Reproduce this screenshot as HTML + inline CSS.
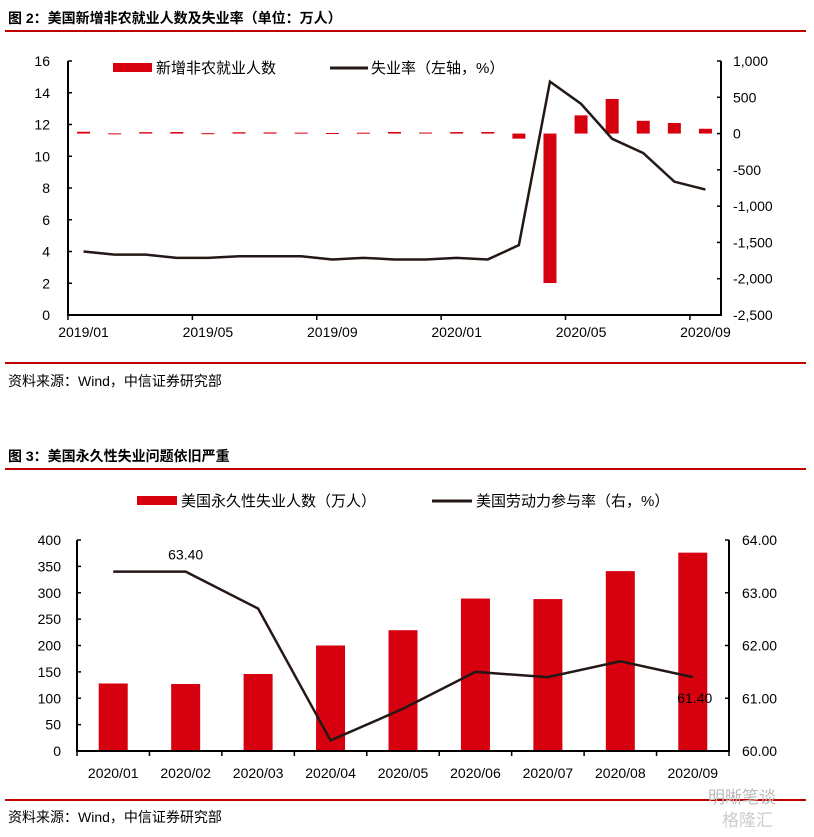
<!DOCTYPE html>
<html><head><meta charset="utf-8"><style>
body{margin:0;background:#fff;width:814px;height:832px;overflow:hidden;font-family:"Liberation Sans","Noto Sans CJK SC",sans-serif}
svg text{font-family:"Liberation Sans","Noto Sans CJK SC",sans-serif}
</style></head><body>
<svg width="814" height="832">
<text x="8" y="23" font-size="14" font-weight="bold">图 2：美国新增非农就业人数及失业率（单位：万人）</text>
<line x1="5" y1="31" x2="806" y2="31" stroke="#c00000" stroke-width="2"/>
<g id="c1"></g>
<line x1="5" y1="363" x2="806" y2="363" stroke="#c00000" stroke-width="2"/>
<text x="8" y="386" font-size="14">资料来源：Wind，中信证券研究部</text>
<text x="8" y="461" font-size="14" font-weight="bold">图 3：美国永久性失业问题依旧严重</text>
<line x1="5" y1="469" x2="806" y2="469" stroke="#c00000" stroke-width="2"/>
<g id="c2"></g>
<line x1="5" y1="800" x2="806" y2="800" stroke="#c00000" stroke-width="2"/>
<text x="8" y="822" font-size="14">资料来源：Wind，中信证券研究部</text>
<text x="708" y="803" font-size="17" fill="#bbb">明晰笔谈</text>
<text x="722" y="826" font-size="17" fill="#ccc">格隆汇</text>
</svg>
<script>
const months1=["2019/01","2019/02","2019/03","2019/04","2019/05","2019/06","2019/07","2019/08","2019/09","2019/10","2019/11","2019/12","2020/01","2020/02","2020/03","2020/04","2020/05","2020/06","2020/07","2020/08","2020/09"];
const unemp=[4.0,3.8,3.8,3.6,3.6,3.7,3.7,3.7,3.5,3.6,3.5,3.5,3.6,3.5,4.4,14.7,13.3,11.1,10.2,8.4,7.9];
const payrolls=[25,3,19,21,5,18,16,13,8,12,22,14,21,22,-70,-2060,251,477,176,146,66];
const leftTicks1=[0,2,4,6,8,10,12,14,16];
const rightTicks1=[-2500,-2000,-1500,-1000,-500,0,500,1000];
const rightLabels1=["-2,500","-2,000","-1,500","-1,000","-500","0","500","1,000"];
const xLabelIdx1=[0,4,8,12,16,20];

const months2=["2020/01","2020/02","2020/03","2020/04","2020/05","2020/06","2020/07","2020/08","2020/09"];
const perm=[128,127,146,200,229,289,288,341,376];
const lfpr=[63.4,63.4,62.7,60.2,60.8,61.5,61.4,61.7,61.4];
const leftTicks2=[0,50,100,150,200,250,300,350,400];
const rightTicks2=[60,61,62,63,64];
const NS="http://www.w3.org/2000/svg";
function el(p,t,a){const e=document.createElementNS(NS,t);for(const k in a)e.setAttribute(k,a[k]);p.appendChild(e);return e;}
function txt(p,x,y,s,a,sz){const e=el(p,"text",{x:x,y:y,"font-size":sz||14,"text-anchor":a||"middle"});e.textContent=s;return e;}

// Chart 1
(function(){
const g=document.getElementById("c1");
const L=68,R=721,T=61,B=315,n=months1.length,bw=(R-L)/n;
const yl=v=>B-(v-0)/16*(B-T), yr=v=>B-(v+2500)/3500*(B-T), xc=i=>L+bw*(i+0.5);
payrolls.forEach((v,i)=>{const y0=yr(0),y1=yr(v);
 const r=el(g,"rect",{x:xc(i)-6.5,y:Math.min(y0,y1),width:13,height:Math.max(Math.abs(y1-y0),1),fill:"#d7000f"});
 
 });
const pts=unemp.map((v,i)=>xc(i)+","+yl(v)).join(" ");
const pl=el(g,"polyline",{points:pts,fill:"none",stroke:"#231815","stroke-width":2.5});


el(g,"line",{x1:L,y1:T,x2:L,y2:B+1,stroke:"#000","stroke-width":2});
el(g,"line",{x1:R,y1:T,x2:R,y2:B+1,stroke:"#000","stroke-width":2});
el(g,"line",{x1:L,y1:B,x2:R,y2:B,stroke:"#000","stroke-width":2});
leftTicks1.forEach(v=>{el(g,"line",{x1:L,y1:yl(v),x2:L+4,y2:yl(v),stroke:"#000","stroke-width":1.5});const t=txt(g,L-18,yl(v)+5,String(v),"end");});
rightTicks1.forEach((v,k)=>{el(g,"line",{x1:R-4,y1:yr(v),x2:R,y2:yr(v),stroke:"#000","stroke-width":1.5});const t=txt(g,R+12,yr(v)+5,rightLabels1[k],"start");});
for(let i=0;i<=n;i+=4){el(g,"line",{x1:L+bw*i,y1:B,x2:L+bw*i,y2:B+5,stroke:"#000","stroke-width":1.5});}
xLabelIdx1.forEach(i=>{const t=txt(g,xc(i),B+22,months1[i]);});
const lg=el(g,"g",{});
el(lg,"rect",{x:113,y:63,width:39,height:9,fill:"#d7000f"});
txt(lg,156,73,"新增非农就业人数","start",15);
el(lg,"line",{x1:330,y1:68,x2:368,y2:68,stroke:"#231815","stroke-width":3});
txt(lg,371,73,"失业率（左轴，%）","start",15);
})();

// Chart 2
(function(){
const g=document.getElementById("c2");
const L=77,R=729,T=540,B=751,n=months2.length,bw=(R-L)/n;
const yl=v=>B-v/400*(B-T), yr=v=>B-(v-60)/4*(B-T), xc=i=>L+bw*(i+0.5);
perm.forEach((v,i)=>{const r=el(g,"rect",{x:xc(i)-14.5,y:yl(v),width:29,height:B-yl(v),fill:"#d7000f"});
 
 });
const pl=el(g,"polyline",{points:lfpr.map((v,i)=>xc(i)+","+yr(v)).join(" "),fill:"none",stroke:"#231815","stroke-width":2.5});


const a=txt(g,xc(1),yr(lfpr[1])-12,lfpr[1].toFixed(2));
const b=txt(g,xc(8)+2,yr(lfpr[8])+26,lfpr[8].toFixed(2));
el(g,"line",{x1:L,y1:T,x2:L,y2:B+1,stroke:"#000","stroke-width":2});
el(g,"line",{x1:R,y1:T,x2:R,y2:B+1,stroke:"#000","stroke-width":2});
el(g,"line",{x1:L,y1:B,x2:R,y2:B,stroke:"#000","stroke-width":2});
leftTicks2.forEach(v=>{el(g,"line",{x1:L,y1:yl(v),x2:L+4,y2:yl(v),stroke:"#000","stroke-width":1.5});const t=txt(g,L-16,yl(v)+5,String(v),"end");});
rightTicks2.forEach(v=>{el(g,"line",{x1:R-4,y1:yr(v),x2:R,y2:yr(v),stroke:"#000","stroke-width":1.5});const t=txt(g,R+13,yr(v)+5,v.toFixed(2),"start");});
for(let i=0;i<=n;i++){el(g,"line",{x1:L+bw*i,y1:B,x2:L+bw*i,y2:B+5,stroke:"#000","stroke-width":1.5});}
months2.forEach((m,i)=>{const t=txt(g,xc(i),B+27,m);});
const lg=el(g,"g",{});
el(lg,"rect",{x:137,y:496,width:40,height:9,fill:"#d7000f"});
txt(lg,181,506,"美国永久性失业人数（万人）","start",15);
el(lg,"line",{x1:432,y1:501,x2:472,y2:501,stroke:"#231815","stroke-width":3});
txt(lg,476,506,"美国劳动力参与率（右，%）","start",15);
})();
</script>
</body></html>
